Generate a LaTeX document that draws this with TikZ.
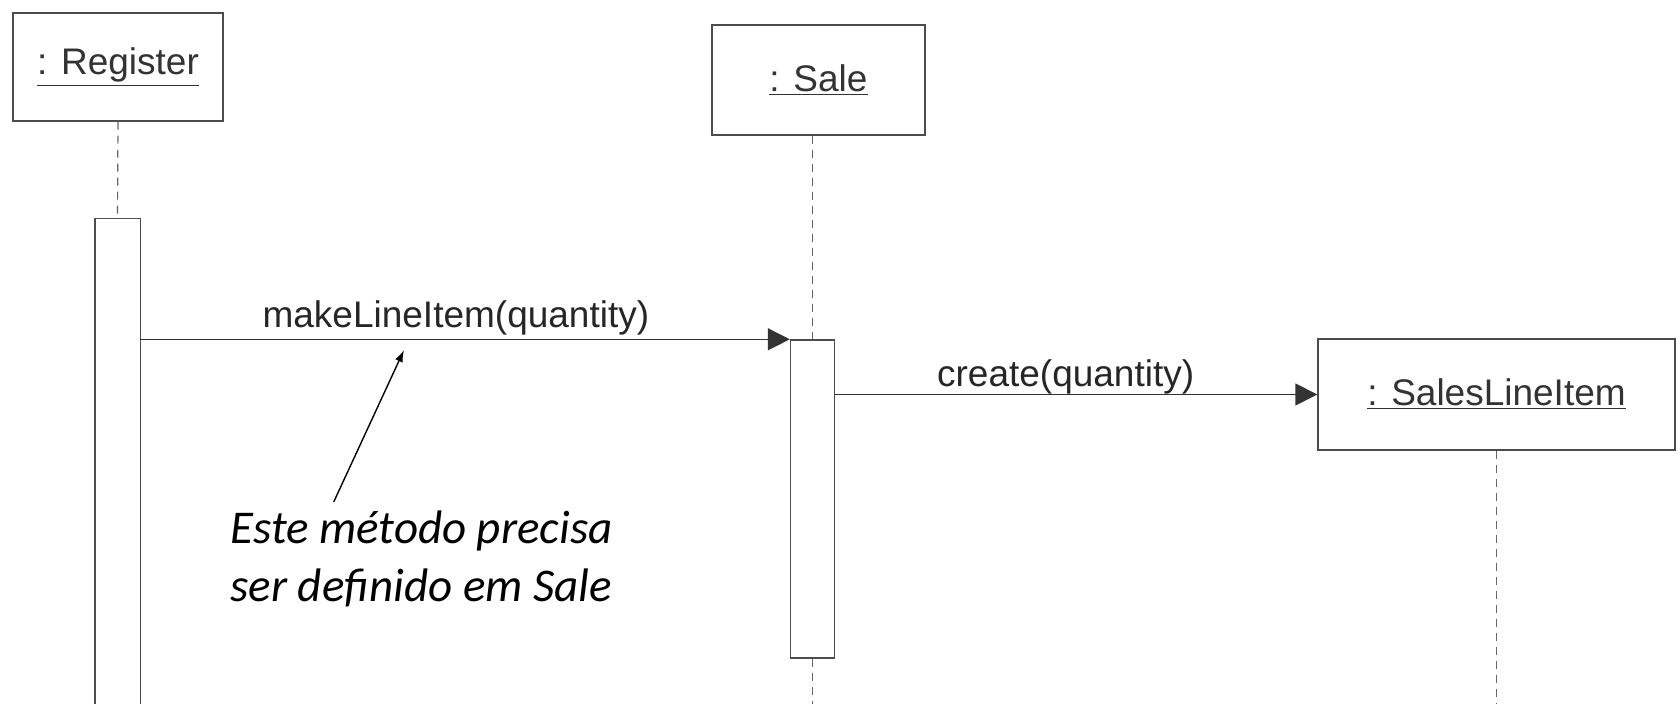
\documentclass[tikz,border=0pt]{standalone}
\usepackage{fontspec}
\setmainfont{Liberation Sans}
\newfontfamily\notefont{Carlito}
\usepackage{tikz}
\usetikzlibrary{arrows.meta,positioning,calc}

\tikzset{
  obj/.style={draw=black!70, line width=0.7pt, fill=white, inner sep=0pt,
    font=\fontsize{18.5}{22}\selectfont, text=black!80},
  actbar/.style={draw=black!70, line width=0.7pt, fill=white, minimum width=22pt, inner sep=0pt},
  lifeline/.style={draw=black!60, line width=0.6pt, dash pattern=on 4pt off 3pt},
  msg/.style={draw=black!80, line width=0.7pt, -{Triangle[length=11pt,width=11pt]}},
  msglabel/.style={font=\fontsize{18.5}{22}\selectfont, text=black!85, anchor=base, inner sep=0pt},
  note/.style={font=\notefont\itshape\fontsize{23.5}{29}\selectfont, anchor=base west, inner sep=0pt},
}

\begin{document}
\begin{tikzpicture}[x=0.5pt,y=-0.5pt]
    \useasboundingbox[fill=white] (0,0) rectangle (1680,704);
    \coordinate (bottom) at (0,704);

    % 对象
    \node[obj, minimum width=105pt, minimum height=54pt] (reg) at (118,67) {\underline{: Register}};
    \node[obj, minimum width=106.5pt, minimum height=55pt] (sale) at (818.5,80) {\underline{: Sale}};
    \node[obj, minimum width=178.5pt, minimum height=55.5pt] (sli) at (1496.5,394.5) {\underline{: SalesLineItem}};

    % 激活条
    \node[actbar, draw=none, minimum height=242.5pt] (regbar) at (117.5,461.5) {};
    \draw[black!70, line width=0.7pt] (regbar.south west) -- (regbar.north west)
        -- (regbar.north east) -- (regbar.south east);
    \node[actbar, minimum height=159pt] (salebar) at (812.5,499) {};

    % 生命线
    \draw[lifeline] (reg.south) -- (regbar.north);
    \draw[lifeline] (salebar.north |- sale.south) -- (salebar.north);
    \draw[lifeline] (salebar.south) -- (salebar.south |- bottom);
    \draw[lifeline] (sli.south) -- (sli.south |- bottom);

    % 消息
    \draw[msg] (regbar.east |- salebar.north) -- (salebar.north west)
        node[msglabel, pos=.486, yshift=6pt] {makeLineItem(quantity)};
    \draw[msg] (salebar.east |- sli.west) -- (sli.west)
        node[msglabel, pos=.478, yshift=4pt] {create(quantity)};

    % 注释
    \node[note] (note1) at (230,544) {Este método precisa};
    \node[note] (note2) at (230,602) {ser definido em Sale};
    \coordinate (tip) at (404,350);
    \draw[-{Latex[length=6pt,width=4pt]}, line width=0.7pt, shorten <=5pt]
        ($(note1.north west)!.26!(note1.north east)$) -- (tip);
\end{tikzpicture}
\end{document}
